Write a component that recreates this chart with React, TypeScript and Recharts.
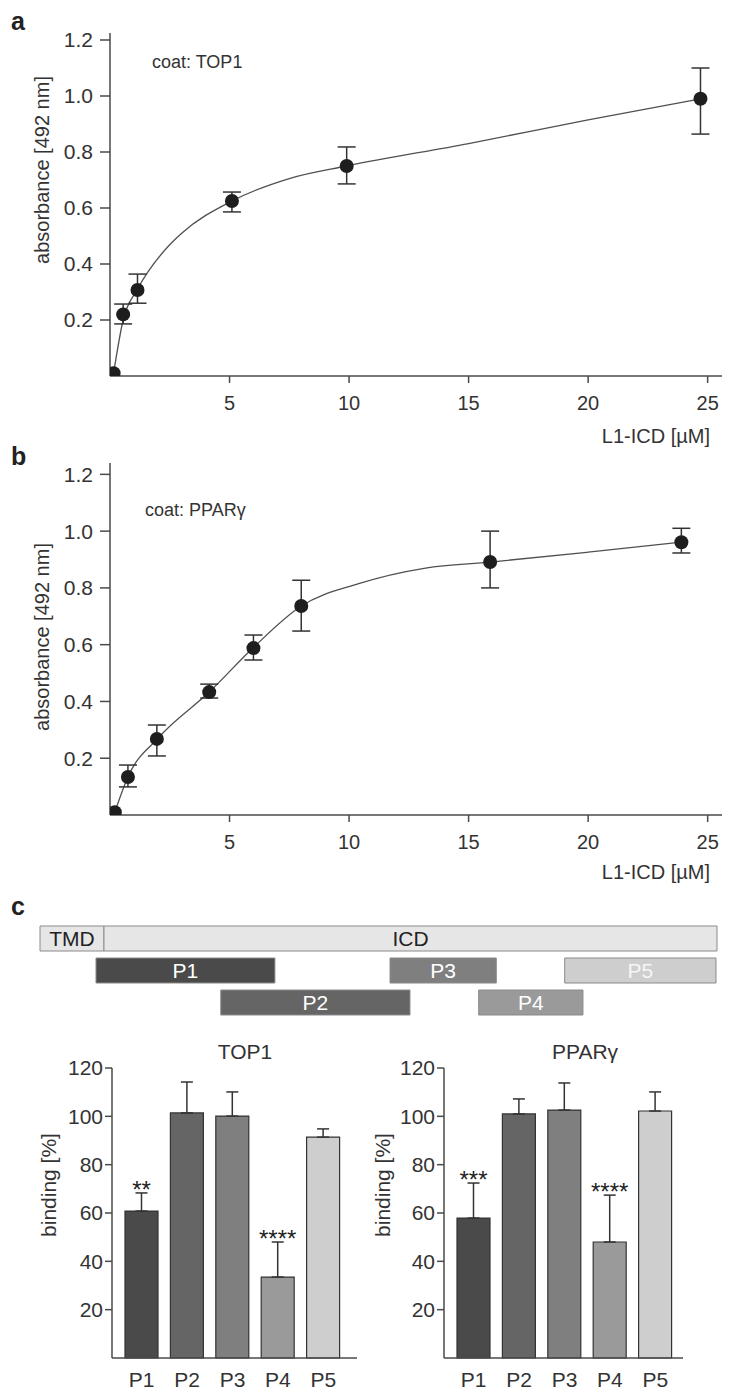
import React from 'react';
import {
  ComposedChart, Scatter, Line, XAxis, YAxis, ErrorBar, Label,
  BarChart, Bar, Cell, LabelList,
} from 'recharts';

const FONT = '"Liberation Sans", Arial, Helvetica, sans-serif';
const INK = '#333';
const AXIS = '#4a4a4a';

// a: coat TOP1
const concA = [0.15, 0.55, 1.15, 5.1, 9.9, 24.7];
const absA = [0.01, 0.22, 0.307, 0.625, 0.75, 0.99];
const absALow = [null, 0.186, 0.26, 0.586, 0.686, 0.864];
const absAHigh = [null, 0.257, 0.364, 0.657, 0.818, 1.1];
const fitAx = [0.15, 0.55, 1.15, 2.4, 3, 5.1, 7.5, 9.9, 15, 20, 24.7];
const fitAy = [0.01, 0.2, 0.31, 0.46, 0.51, 0.625, 0.705, 0.75, 0.83, 0.915, 0.99];

// b: coat PPARgamma
const concB = [0.2, 0.75, 1.96, 4.15, 6.0, 8.0, 15.9, 23.9];
const absB = [0.01, 0.134, 0.268, 0.433, 0.588, 0.736, 0.891, 0.961];
const absBLow = [null, 0.099, 0.208, 0.412, 0.546, 0.648, 0.8, 0.923];
const absBHigh = [null, 0.176, 0.317, 0.461, 0.634, 0.827, 1.0, 1.01];
const fitBx = [0.2, 0.75, 2, 4.15, 6, 8, 10.4, 13.2, 15.9, 20, 23.9];
const fitBy = [0.01, 0.134, 0.27, 0.433, 0.59, 0.736, 0.815, 0.87, 0.891, 0.926, 0.961];

const xTicks = [5, 10, 15, 20, 25];
const absTicks = [0.2, 0.4, 0.6, 0.8, 1.0, 1.2];

// c: construct map (position along L1, 0-100)
const mapRows = ['full', 'row1', 'row2'];
const seg1 = [[0, 9.45], [8.27, 34.7], [26.7, 54.65]];
const seg1Names = ['TMD', 'P1', 'P2'];
const seg2 = [[9.45, 100], [51.7, 67.4], [64.8, 80.2]];
const seg2Names = ['ICD', 'P3', 'P4'];
const seg3 = [null, [77.5, 99.85], null];
const seg3Names = ['', 'P5', ''];

// c: binding bars
const peptides = ['P1', 'P2', 'P3', 'P4', 'P5'];
const top1Binding = [60.8, 101.4, 100.1, 33.5, 91.4];
const top1Sem = [7.5, 12.8, 10.0, 14.5, 3.4];
const top1Stars = ['**', '', '', '****', ''];
const pparBinding = [57.9, 101, 102.6, 48, 102.2];
const pparSem = [14.5, 6.2, 11.2, 19.4, 7.9];
const pparStars = ['***', '', '', '****', ''];
const bindTicks = [20, 40, 60, 80, 100, 120];

const peptideColors = ['#4a4a4a', '#656565', '#7f7f7f', '#9a9a9a', '#cecece'];
const seg1Colors = ['#e6e6e6', peptideColors[0], peptideColors[1]];
const seg2Colors = ['#e6e6e6', peptideColors[2], peptideColors[3]];
const seg3Colors = ['#e6e6e6', peptideColors[4], '#e6e6e6'];

const points = (xs: number[], ys: number[], lo: (number | null)[], hi: (number | null)[]) =>
  xs.map((x, i) => ({
    x,
    y: ys[i],
    err: lo[i] == null ? null : [ys[i] - (lo[i] as number), (hi[i] as number) - ys[i]],
  }));

const curve = (xs: number[], ys: number[]) => xs.map((x, i) => ({ x, y: ys[i] }));

const rotText = (x: number, y: number, text: string, size: number) => () => (
  <text x={x} y={y} transform={`rotate(-90 ${x} ${y})`} textAnchor="middle"
    dominantBaseline="central" fontSize={size} fontFamily={FONT} fill={INK}>{text}</text>
);

const plainText = (x: number, y: number, text: string) => () => (
  <text x={x} y={y} textAnchor="end" fontSize={20} fontFamily={FONT} fill={INK}>{text}</text>
);

const Dot = (p: any) => <circle cx={p.cx} cy={p.cy} r={7} fill="#1e1e1e" />;
const NoDot = () => <g />;

type CurveProps = {
  xs: number[]; ys: number[]; lo: (number | null)[]; hi: (number | null)[];
  fx: number[]; fy: number[]; top: number; yMax: number; plotTop: number; xAxisH: number;
  yLabelY: number; xLabelY: number;
};

const BindingCurve = ({ xs, ys, lo, hi, fx, fy, top, yMax, plotTop, xAxisH, yLabelY, xLabelY }: CurveProps) => {
  const pts = points(xs, ys, lo, hi);
  const withErr = pts.filter((p) => p.err !== null);
  return (
    <div style={{ position: 'absolute', left: 0, top }}>
      <ComposedChart width={737} height={450} margin={{ top: plotTop, right: 15, left: 0, bottom: 0 }}>
        <XAxis type="number" dataKey="x" domain={[0, 25.6]} ticks={xTicks} allowDataOverflow
          height={xAxisH} tickSize={7} tickMargin={13} stroke={AXIS}
          axisLine={{ strokeWidth: 1.5 }} tickLine={{ strokeWidth: 1.5 }}
          tick={{ fill: INK, fontSize: 20, fontFamily: FONT }}>
          <Label content={plainText(710, xLabelY, 'L1-ICD [µM]')} />
        </XAxis>
        <YAxis type="number" dataKey="y" domain={[0, yMax]} ticks={absTicks} allowDataOverflow
          width={110} tickSize={10} tickMargin={7} stroke={AXIS}
          tickFormatter={(v: number) => v.toFixed(1)}
          axisLine={{ strokeWidth: 1.5 }} tickLine={{ strokeWidth: 1.5 }}
          tick={{ fill: INK, fontSize: 21, fontFamily: FONT }}>
          <Label content={rotText(42, yLabelY, 'absorbance [492 nm]', 20)} />
        </YAxis>
        <Line data={curve(fx, fy)} dataKey="y" type="monotone" dot={false} stroke="#505050"
          strokeWidth={1.3} isAnimationActive={false} />
        <Scatter data={withErr} shape={NoDot} isAnimationActive={false}>
          <ErrorBar dataKey="err" direction="y" width={9} stroke="#333" strokeWidth={1.5}
            isAnimationActive={false} />
        </Scatter>
        <Scatter data={pts} shape={Dot} isAnimationActive={false} />
      </ComposedChart>
    </div>
  );
};

const starLabel = (p: any) => {
  if (!p.value) return null;
  return (
    <text x={p.x + p.width / 2} y={p.y + 5} textAnchor="middle" fontSize={24}
      fontFamily={FONT} fill="#222">{p.value}</text>
  );
};

type BarProps = {
  vals: number[]; errs: number[]; stars: string[]; left: number; yw: number; mr: number;
  pl: number; pr: number; labelX: number;
};

const BindingBars = ({ vals, errs, stars, left, yw, mr, pl, pr, labelX }: BarProps) => {
  const rows = peptides.map((name, i) => ({
    name, v: vals[i], e: [0, errs[i]], eTop: errs[i], star: stars[i],
  }));
  return (
    <div style={{ position: 'absolute', left, top: 1030 }}>
      <BarChart width={370} height={365} data={rows} barSize={33}
        margin={{ top: 38, right: mr, left: 0, bottom: 0 }}>
        <XAxis dataKey="name" type="category" height={37} padding={{ left: pl, right: pr }}
          tickLine={false} tickSize={0} tickMargin={14} interval={0} stroke={AXIS}
          axisLine={{ strokeWidth: 1.5 }} tick={{ fill: INK, fontSize: 21, fontFamily: FONT }} />
        <YAxis type="number" domain={[0, 120]} ticks={bindTicks} width={yw} tickSize={7}
          tickMargin={2} stroke={AXIS} axisLine={{ strokeWidth: 1.5 }} tickLine={{ strokeWidth: 1.5 }}
          tick={{ fill: INK, fontSize: 21, fontFamily: FONT }}>
          <Label content={rotText(labelX, 155, 'binding [%]', 21)} />
        </YAxis>
        <Bar dataKey="v" stackId="s" stroke="#333" strokeWidth={1.2} isAnimationActive={false}>
          {rows.map((r, i) => <Cell key={r.name} fill={peptideColors[i]} />)}
          <ErrorBar dataKey="e" direction="y" width={6} stroke="#333" strokeWidth={1.5}
            isAnimationActive={false} />
        </Bar>
        <Bar dataKey="eTop" stackId="s" fill="none" isAnimationActive={false}>
          <LabelList dataKey="star" content={starLabel} />
        </Bar>
      </BarChart>
    </div>
  );
};

const mapLabel = (p: any) => {
  const name = p.value;
  if (!name || p.width == null) return null;
  const dark = name === 'TMD' || name === 'ICD';
  return (
    <text x={p.x + p.width / 2} y={p.y + p.height / 2} textAnchor="middle" dominantBaseline="central"
      fontSize={21} fontFamily={FONT} fill={dark ? '#222' : name === 'P5' ? '#f6f6f6' : '#fff'}>{name}</text>
  );
};

const ConstructMap = () => {
  const rows = mapRows.map((row, i) => ({
    row, s1: seg1[i], s2: seg2[i], s3: seg3[i],
    n1: seg1Names[i], n2: seg2Names[i], n3: seg3Names[i],
  }));
  const segs = [
    { key: 's1', name: 'n1', id: 'a', colors: seg1Colors },
    { key: 's2', name: 'n2', id: 'b', colors: seg2Colors },
    { key: 's3', name: 'n3', id: 'c', colors: seg3Colors },
  ];
  return (
    <div style={{ position: 'absolute', left: 0, top: 922 }}>
      <BarChart layout="vertical" width={737} height={96} data={rows} barSize={25}
        margin={{ top: 0, right: 20, left: 40, bottom: 0 }}>
        <XAxis type="number" domain={[0, 100]} hide />
        {segs.map((s) => (
          <YAxis key={s.id} yAxisId={s.id} type="category" dataKey="row" hide />
        ))}
        {segs.map((s) => (
          <Bar key={s.key} yAxisId={s.id} dataKey={s.key} stroke="#8a8a8a" strokeWidth={1}
            isAnimationActive={false}>
            {rows.map((r, i) => <Cell key={r.row} fill={s.colors[i]} />)}
            <LabelList dataKey={s.name} content={mapLabel} />
          </Bar>
        ))}
      </BarChart>
    </div>
  );
};

export default function App() {
  return (
    <div style={{ position: 'absolute', left: 0, top: 0, width: 737, height: 1395, background: '#fff', fontFamily: FONT }}>
      <BindingCurve xs={concA} ys={absA} lo={absALow} hi={absAHigh} fx={fitAx} fy={fitAy}
        top={0} yMax={1.225} plotTop={33} xAxisH={74} yLabelY={170} xLabelY={443} />
      <BindingCurve xs={concB} ys={absB} lo={absBLow} hi={absBHigh} fx={fitBx} fy={fitBy}
        top={440} yMax={1.24} plotTop={23} xAxisH={75} yLabelY={197} xLabelY={439} />
      <ConstructMap />
      <BindingBars vals={top1Binding} errs={top1Sem} stars={top1Stars} left={0} yw={112} mr={13}
        pl={7} pr={11} labelX={48} />
      <BindingBars vals={pparBinding} errs={pparSem} stars={pparStars} left={367} yw={77} mr={54}
        pl={7} pr={5} labelX={15} />
      <svg width={737} height={1395} style={{ position: 'absolute', left: 0, top: 0, pointerEvents: 'none' }}>
        <g fontFamily={FONT} fill="#222">
          <text x={11} y={30} fontSize={25} fontWeight="bold">a</text>
          <text x={11} y={465} fontSize={25} fontWeight="bold">b</text>
          <text x={11} y={915} fontSize={25} fontWeight="bold">c</text>
        </g>
        <g fontFamily={FONT} fill={INK}>
          <text x={152} y={68} fontSize={18}>coat: TOP1</text>
          <text x={145} y={516} fontSize={18}>coat: PPARγ</text>
          <text x={245} y={1059} fontSize={21} textAnchor="middle">TOP1</text>
          <text x={585} y={1059} fontSize={21} textAnchor="middle">PPARγ</text>
        </g>
      </svg>
    </div>
  );
}
